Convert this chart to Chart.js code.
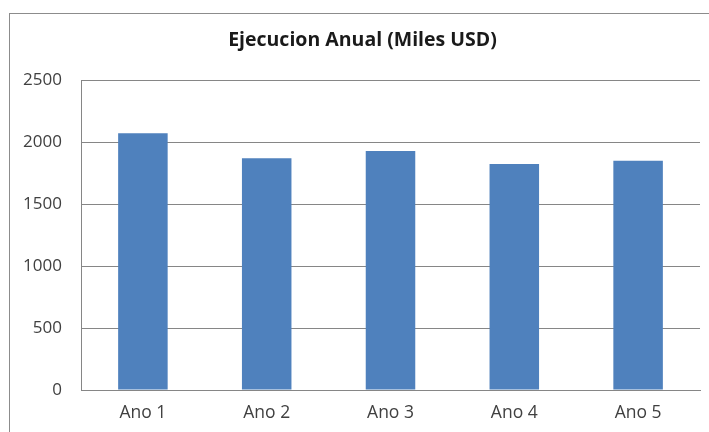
<!DOCTYPE html>
<html>
<head>
<meta charset="utf-8">
<script src="https://cdn.jsdelivr.net/npm/chart.js@4"></script>
<style>
    html, body { margin: 0; padding: 0; background: #fff; overflow: hidden; }
    #frame {
        position: absolute;
        left: 9px;
        top: 13px;
        width: 720px;
        height: 440px;
        border: 1px solid #8c8c8c;
    }
    #wrap { position: absolute; left: 0; top: 0; width: 709px; height: 432px; }
</style>
</head>
<body>
<div id="frame"></div>
<div id="wrap"><canvas id="ejecucion"></canvas></div>
<script>
const CATEGORIES = ["Ano 1", "Ano 2", "Ano 3", "Ano 4", "Ano 5"];
const EJECUCION = [2070, 1868, 1927, 1823, 1849];
const Y_MIN = 0;
const Y_MAX = 2500;
const Y_STEP = 500;

const GRID_COLOR = "#868686";
const BAR_COLOR = "#4f81bd";

// title sits a bit right of the canvas centre, like the frame around it
const titleShift = {
    id: "titleShift",
    afterLayout: function (chart) {
        if (chart.titleBlock) {
            chart.titleBlock.left += 25;
        }
    },
};

var options = {
    type: "bar",
    data: {
        labels: CATEGORIES,
        datasets: [
            {
                label: "Ejecucion",
                data: EJECUCION,
                backgroundColor: BAR_COLOR,
                borderWidth: 0,
                barPercentage: 0.4,
                categoryPercentage: 1,
            },
        ],
    },
    options: {
        responsive: false,
        animation: false,
        layout: {
            padding: { left: 0, right: 9, top: 0, bottom: 0 },
        },
        scales: {
            x: {
                grid: { display: false, drawTicks: false },
                border: { display: true, color: GRID_COLOR, width: 1 },
                ticks: {
                    padding: 13,
                    color: "#404040",
                    font: { family: "Open Sans", size: 17.5 },
                },
                afterFit: function (scale) {
                    scale.height = 42;
                },
            },
            y: {
                min: Y_MIN,
                max: Y_MAX,
                ticks: {
                    stepSize: Y_STEP,
                    padding: 19,
                    color: "#404040",
                    font: { family: "Open Sans", size: 17 },
                    // no thousands separator
                    callback: function (value) {
                        return String(value);
                    },
                },
                grid: { color: GRID_COLOR, drawTicks: false },
                border: { display: true, color: GRID_COLOR, width: 1 },
                afterFit: function (scale) {
                    scale.width = 81;
                },
            },
        },
        plugins: {
            legend: { display: false },
            tooltip: { enabled: false },
            title: {
                display: true,
                text: "Ejecucion Anual (Miles USD)",
                color: "#1a1a1a",
                font: { family: "Open Sans", size: 19.5, weight: "bold" },
                padding: { top: 29, bottom: 27.6 },
            },
        },
    },
    plugins: [titleShift],
};

const canvas = document.getElementById("ejecucion");
canvas.width = 709;
canvas.height = 432;
const ctx = canvas.getContext("2d");
const chart = new Chart(ctx, options);
</script>
</body>
</html>
